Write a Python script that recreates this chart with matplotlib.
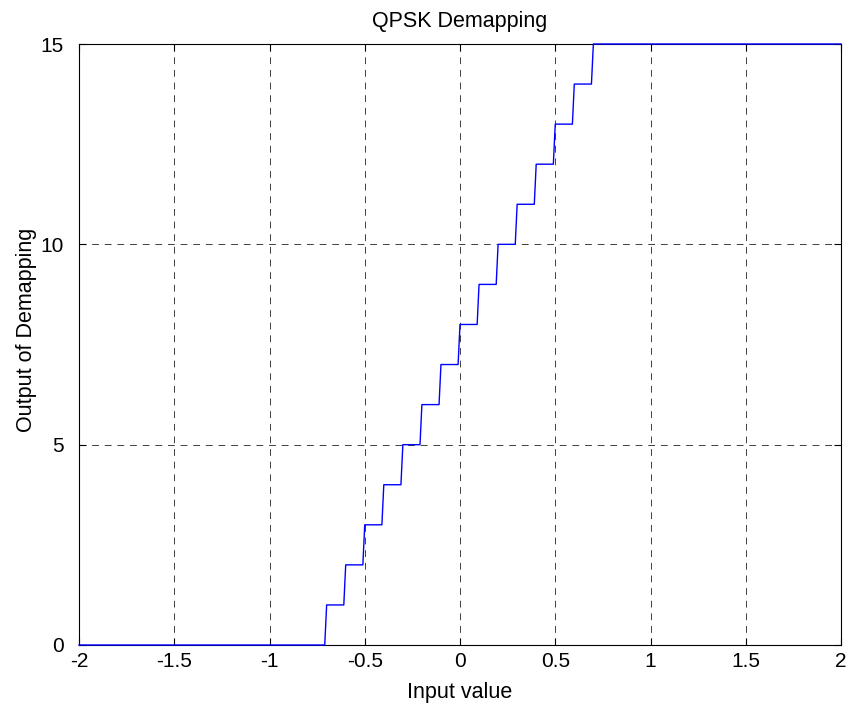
import numpy as np
import matplotlib.pyplot as plt

# demapper decision edges and output levels (level i holds left of edge i)
edges = [-0.7, -0.6, -0.5, -0.4, -0.3, -0.2, -0.1, 0.0,
         0.1, 0.2, 0.3, 0.4, 0.5, 0.6, 0.7]
levels = [0, 1, 2, 3, 4, 5, 6, 7, 8, 9, 10, 11, 12, 13, 14, 15]
xticks = [-2, -1.5, -1, -0.5, 0, 0.5, 1, 1.5, 2]
xticklabels = ['-2', '-1.5', '-1', '-0.5', '0', '0.5', '1', '1.5', '2']
yticks = [0, 5, 10, 15]

plt.rcParams['font.family'] = ['Liberation Sans', 'DejaVu Sans']

# input sweep, sampled like the simulation
x = np.arange(-2, 2.0001, 0.01)
idx = np.searchsorted(np.array(edges) - 1e-9, x, side='left')
y = np.array(levels)[idx]

fig = plt.figure(figsize=(8.51, 7.11), dpi=100)
ax = fig.add_axes([79 / 851, 1 - 645 / 711, (841 - 79) / 851, (645 - 44) / 711])
ax.plot(x, y, color='#0000ff', linewidth=1.0, clip_on=False, zorder=3)

ax.set_xlim(-2, 2)
ax.set_ylim(0, 15)
ax.set_xticks(xticks)
ax.set_xticklabels(xticklabels)
ax.set_yticks(yticks)
ax.tick_params(direction='in', length=5, labelsize=15, top=True, right=True)
ax.tick_params(axis='x', pad=5)
ax.tick_params(axis='y', pad=11)
ax.grid(True, color='black', linestyle=(0, (7, 6)), linewidth=0.7, alpha=0.75)
for s in ax.spines.values():
    s.set_linewidth(0.8)

ax.set_title('QPSK Demapping', fontsize=15.5, pad=12)
ax.set_xlabel('Input value', fontsize=15.5, labelpad=8)
ax.set_ylabel('Output of Demapping', fontsize=15.5)
ax.yaxis.set_label_coords(-0.055, 0.524)

fig.savefig('out.png', dpi=100)
